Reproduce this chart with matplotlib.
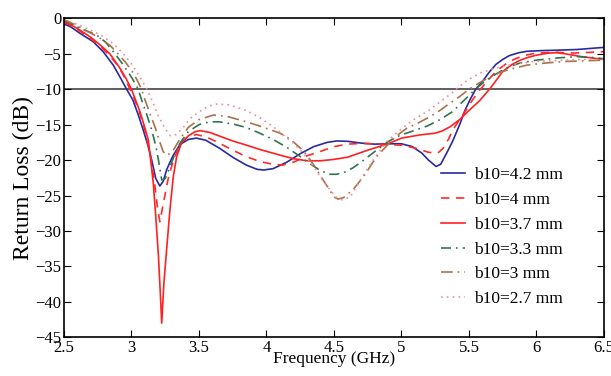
import matplotlib.pyplot as plt

plt.rcParams['font.family'] = ['Liberation Serif', 'DejaVu Serif']

# b10 = 4.2 mm
f_42 = [2.5, 2.55, 2.617, 2.717, 2.79, 2.865, 2.927, 2.964, 3.01, 3.05, 3.087, 3.12, 3.15, 3.18,
        3.21, 3.235, 3.26, 3.285, 3.31, 3.36, 3.42, 3.48, 3.55, 3.65, 3.75, 3.85, 3.93, 3.98,
        4.05, 4.15, 4.25, 4.35, 4.45, 4.52, 4.6, 4.7, 4.8, 4.9, 5.0, 5.08, 5.15, 5.2, 5.256,
        5.29, 5.335, 5.38, 5.433, 5.47, 5.51, 5.55, 5.6, 5.65, 5.7, 5.75, 5.8, 5.87, 5.93,
        6.05, 6.15, 6.3, 6.4, 6.5]
rl_42 = [-0.8, -1.2, -2.1, -3.3, -4.7, -6.6, -8.7, -10.0, -11.5, -13.6, -15.75, -17.8, -20.0, -22.6,
         -23.65, -23.0, -21.4, -20.3, -19.3, -17.8, -17.1, -16.9, -17.2, -18.3, -19.6, -20.7, -21.3, -21.4,
         -21.2, -20.3, -19.1, -18.1, -17.5, -17.3, -17.35, -17.6, -17.75, -17.7, -17.7, -18.1, -19.0, -20.0, -20.9,
         -20.6, -19.0, -17.3, -14.9, -13.0, -11.4, -10.0, -8.9, -7.6, -6.5, -5.8, -5.25, -4.85, -4.65,
         -4.55, -4.5, -4.4, -4.25, -4.1]

# b10 = 4 mm
f_40 = [2.5, 2.55, 2.617, 2.7, 2.767, 2.84, 2.9, 2.94, 2.977, 3.02, 3.06, 3.1, 3.14, 3.17,
        3.19, 3.21, 3.236, 3.27, 3.31, 3.347, 3.38, 3.42, 3.48, 3.55, 3.65, 3.75, 3.85, 3.95,
        4.05, 4.12, 4.2, 4.3, 4.396, 4.5, 4.6, 4.7, 4.8, 4.9, 5.0, 5.1, 5.2, 5.27, 5.31,
        5.35, 5.38, 5.43, 5.48, 5.53, 5.58, 5.63, 5.68, 5.73, 5.79, 5.85, 5.92, 6.0, 6.15,
        6.27, 6.4, 6.5]
rl_40 = [-0.6, -1.0, -1.8, -2.9, -3.9, -5.3, -6.7, -8.0, -9.5, -11.3, -13.3, -15.8, -19.3, -23.0,
         -26.3, -28.7, -26.1, -22.8, -20.0, -18.4, -17.3, -16.7, -16.4, -16.7, -17.6, -18.6, -19.5, -20.2,
         -20.6, -20.7, -20.3, -19.4, -18.8, -18.1, -17.75, -17.65, -17.7, -17.8, -17.9, -18.3, -18.9, -19.0, -18.3,
         -17.0, -15.75, -14.3, -12.9, -11.4, -10.1, -9.0, -7.9, -7.05, -6.2, -5.65, -5.2, -4.9, -4.8,
         -4.9, -4.8, -4.7]

# b10 = 3.7 mm
f_37 = [2.5, 2.55, 2.617, 2.7, 2.767, 2.84, 2.915, 2.96, 3.0, 3.063, 3.1, 3.125, 3.162, 3.18,
        3.2, 3.216, 3.224, 3.24, 3.26, 3.285, 3.31, 3.335, 3.37, 3.42, 3.47, 3.51, 3.58, 3.65,
        3.75, 3.853, 3.95, 4.1, 4.2, 4.3, 4.4, 4.5, 4.6, 4.75, 4.9, 5.0, 5.137, 5.25, 5.3,
        5.36, 5.43, 5.5, 5.58, 5.656, 5.7, 5.75, 5.82, 5.88, 5.94, 6.0, 6.09, 6.15, 6.21,
        6.33, 6.5]
rl_37 = [-0.5, -0.9, -1.65, -2.7, -3.75, -5.0, -7.05, -8.5, -10.0, -13.2, -15.5, -17.2, -23.3, -28.0,
         -33.6, -39.7, -43.0, -37.4, -32.7, -27.0, -22.3, -19.5, -17.6, -16.6, -16.0, -15.85, -16.1, -16.6,
         -17.3, -17.9, -18.5, -19.3, -19.8, -20.1, -20.1, -19.9, -19.6, -18.6, -17.7, -16.9, -16.45, -16.2, -15.9,
         -15.3, -14.3, -13.0, -11.6, -9.9, -8.8, -7.5, -6.5, -5.9, -5.5, -5.2, -4.9, -4.85, -5.0,
         -5.4, -5.8]

# b10 = 3.3 mm
f_33 = [2.5, 2.55, 2.617, 2.742, 2.81, 2.878, 2.94, 3.0, 3.05, 3.075, 3.11, 3.15, 3.18, 3.2,
        3.224, 3.25, 3.285, 3.32, 3.36, 3.42, 3.5, 3.58, 3.65, 3.75, 3.85, 3.95, 4.05, 4.15,
        4.25, 4.33, 4.4, 4.47, 4.52, 4.58, 4.64, 4.72, 4.816, 4.9, 4.99, 5.1, 5.19, 5.285, 5.384,
        5.43, 5.5, 5.56, 5.63, 5.68, 5.75, 5.8, 5.88, 6.0, 6.15, 6.3, 6.4, 6.5]
rl_33 = [-0.3, -0.7, -1.4, -2.35, -3.4, -5.0, -6.6, -8.3, -10.0, -11.5, -13.4, -15.75, -18.0, -20.0,
         -22.8, -22.6, -21.0, -19.2, -17.6, -16.0, -15.0, -14.6, -14.6, -14.9, -15.4, -16.2, -17.1, -18.2,
         -19.5, -20.6, -21.5, -22.0, -22.0, -21.7, -21.1, -20.0, -18.6, -17.4, -16.5, -15.8, -15.2, -14.3, -13.1,
         -12.2, -10.9, -9.8, -8.7, -8.1, -7.3, -6.8, -6.3, -5.9, -5.6, -5.4, -5.5, -5.7]

# b10 = 3 mm
f_30 = [2.5, 2.55, 2.643, 2.767, 2.84, 2.9, 2.96, 3.02, 3.075, 3.1, 3.14, 3.174, 3.2, 3.235,
        3.26, 3.285, 3.31, 3.36, 3.42, 3.5, 3.606, 3.7, 3.853, 3.95, 4.1, 4.18, 4.25, 4.3,
        4.35, 4.4, 4.45, 4.5, 4.53, 4.57, 4.64, 4.72, 4.816, 4.91, 4.97, 5.04, 5.12, 5.21, 5.285,
        5.335, 5.43, 5.5, 5.56, 5.63, 5.72, 5.8, 5.93, 6.07, 6.2, 6.35, 6.5]
rl_30 = [-0.2, -0.6, -1.5, -2.8, -3.8, -5.0, -6.3, -7.9, -10.0, -11.5, -13.6, -15.3, -16.9, -18.8,
         -19.3, -19.1, -18.6, -17.0, -15.4, -14.3, -13.65, -13.8, -14.6, -15.2, -16.2, -17.1, -18.3, -19.3,
         -20.7, -22.2, -23.7, -25.2, -25.5, -25.3, -24.2, -22.3, -19.5, -17.6, -16.5, -15.5, -14.8, -13.9, -13.0,
         -12.3, -11.05, -10.0, -9.3, -8.5, -7.7, -7.2, -6.6, -6.3, -6.1, -6.0, -5.9]

# b10 = 2.7 mm
f_27 = [2.5, 2.55, 2.643, 2.767, 2.86, 2.94, 3.0, 3.06, 3.115, 3.15, 3.2, 3.25, 3.29, 3.33,
        3.38, 3.43, 3.5, 3.57, 3.63, 3.72, 3.85, 3.95, 4.05, 4.2, 4.28, 4.35, 4.41, 4.47,
        4.52, 4.56, 4.62, 4.69, 4.79, 4.89, 4.99, 5.09, 5.21, 5.285, 5.37, 5.43, 5.5, 5.58,
        5.66, 5.75, 5.85, 5.93, 6.02, 6.15, 6.33, 6.5]
rl_27 = [-0.1, -0.5, -1.2, -2.3, -3.5, -5.0, -6.4, -8.2, -10.0, -11.5, -13.8, -15.6, -16.6, -16.4,
         -15.5, -14.2, -13.2, -12.4, -12.1, -12.2, -13.0, -14.0, -15.3, -17.6, -19.2, -20.9, -22.7, -24.2,
         -25.3, -25.6, -25.2, -23.0, -20.0, -17.4, -15.75, -14.3, -12.9, -11.8, -10.6, -9.6, -8.6, -7.75,
         -7.2, -6.8, -6.45, -6.2, -6.05, -5.95, -5.8, -5.8]

labels = ['b10=4.2 mm', 'b10=4 mm', 'b10=3.7 mm', 'b10=3.3 mm', 'b10=3 mm', 'b10=2.7 mm']

fig = plt.figure(figsize=(6.11, 3.76), dpi=100)
ax = fig.add_axes([0.1047, 0.1029, 0.8838, 0.8484])

ax.axhline(-10, color='#333333', lw=1.1, zorder=1)

ax.plot(f_42, rl_42, color='#2a2aa0', lw=1.2, label=labels[0])
ax.plot(f_40, rl_40, color='#ff2a2a', lw=1.2, ls=(0, (5, 4)), label=labels[1])
ax.plot(f_37, rl_37, color='#ff2020', lw=1.2, label=labels[2])
ax.plot(f_33, rl_33, color='#2e7550', lw=1.2, ls=(0, (6, 3, 1, 3)), label=labels[3])
ax.plot(f_30, rl_30, color='#a8724a', lw=1.2, ls=(0, (7, 3, 1, 3)), label=labels[4])
ax.plot(f_27, rl_27, color='#f08a9a', lw=1.2, ls=(0, (1, 2.5)), label=labels[5])

ax.set_xlim(2.5, 6.5)
ax.set_ylim(-45, 0)
ax.set_xticks([2.5, 3, 3.5, 4, 4.5, 5, 5.5, 6, 6.5])
ax.set_xticklabels(['2.5', '3', '3.5', '4', '4.5', '5', '5.5', '6', '6.5'])
ax.set_yticks(range(-45, 1, 5))
ax.set_yticklabels(['\u221245', '\u221240', '\u221235', '\u221230', '\u221225', '\u221220',
                    '\u221215', '\u221210', '\u22125', '0'])
ax.tick_params(direction='in', top=True, right=True, labelsize=12, length=5, pad=2)
for s in ax.spines.values():
    s.set_linewidth(1.2)

ax.set_xlabel('Frequency (GHz)', fontsize=12.5, labelpad=-4)
ax.set_ylabel('Return Loss (dB)', fontsize=17, labelpad=1)

ax.legend(loc='lower right', bbox_to_anchor=(0.952, 0.045), frameon=False, fontsize=12.5,
          handlelength=1.4, handletextpad=0.5, labelspacing=0.5)

fig.savefig('out.png', dpi=100)
